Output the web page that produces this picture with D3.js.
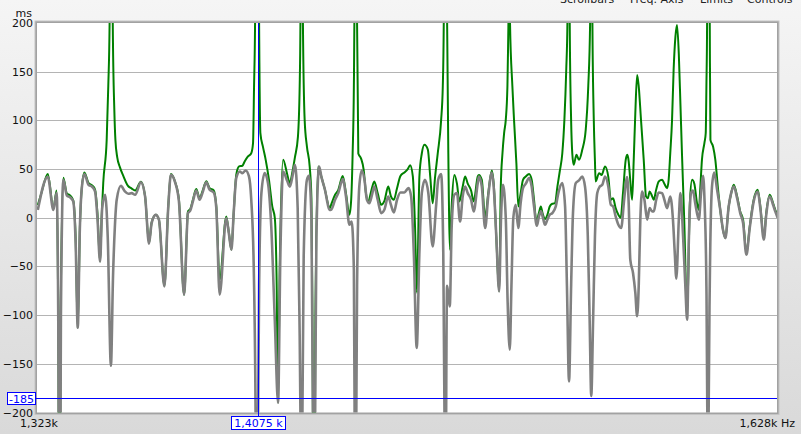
<!DOCTYPE html>
<html><head><meta charset="utf-8">
<script src="https://cdn.jsdelivr.net/npm/d3@7"></script>
<style>
html,body{margin:0;padding:0;overflow:hidden;background:#e6e6e6;}
text{font-family:"DejaVu Sans",sans-serif;}
</style>
</head><body>
<svg id="chart" width="801" height="434"></svg>
<script>
// ---- data ----
const freqDomain = [1323, 1628];       // Hz
const msDomain = [-200, 200];          // ms
const yTicks = [-200, -150, -100, -50, 0, 50, 100, 150, 200];
const yUnit = "ms";
const xEndLabels = ["1,323k", "1,628k Hz"];
const cursorFreq = 1407.5, cursorFreqLabel = "1,4075 k";
const cursorMs = -185, cursorMsLabel = "-185";
const menuItems = ["Scrollbars", "Freq. Axis", "Limits", "Controls"];

// green trace [Hz, ms]
const greenTrace = [
[1323.3,13],[1324.7,26],[1327.0,45],[1329.1,10],[1330.3,28],[1330.9,-100],[1331.4,-400],[1331.8,-100],[1332.8,41],[1334.1,25],[1335.3,23],[1336.5,18],[1337.4,-20],[1338.2,-113],[1339.0,-10],[1339.7,30],[1340.7,46.5],[1342.2,36],[1343.7,33],[1344.7,29],[1345.6,5],[1346.6,-45],[1347.2,1],[1347.8,36],[1349.1,80],[1349.7,135],[1350.2,200],[1350.8,700],[1351.4,200],[1352.0,110],[1352.4,80],[1353.1,62],[1354.1,52],[1355.4,43],[1357.1,33],[1358.6,30],[1359.9,28],[1362.1,37],[1363.7,22],[1365.2,-26],[1366.2,-5],[1367.8,3],[1369.0,-2],[1371.1,-70],[1372.6,12],[1373.6,45],[1375.2,37],[1376.7,18.5],[1378.7,-79],
[1380.2,6.5],[1381.1,9],[1382.1,18.5],[1383.4,29.4],[1384.7,20.2],[1385.8,27],[1387.3,37.6],[1388.6,30.4],[1390.2,28],[1391.2,11.6],[1392.5,-63.6],[1395.1,1.4],[1396.1,-15],[1397.1,-32.8],[1398.0,5],[1399.0,44],[1400.1,52.7],[1401.4,53.4],[1402.3,57.8],[1403.6,63],[1404.9,66.3],[1405.6,76.6],[1406.0,134.7],[1406.4,200],[1407.2,700],[1408.0,200],[1408.5,87],[1409.5,73],[1410.6,59.5],[1411.9,39],[1413.2,11.6],[1414.2,0],[1414.9,-60],[1415.5,-190],[1416.1,-60],[1417.5,59.5],[1419.1,45],[1420.1,35.6],[1421.4,50],[1422.2,62],[1423.4,83],[1424.1,135],[1424.4,200],[1424.8,700],[1425.4,200],[1426.1,100],[1427.0,73],[1428.1,52.7],[1428.8,20],[1429.2,-100],[1429.8,-400],[1430.4,-100],[1431.5,52.7],[1432.8,42],[1434.1,30],[1436.2,10],
[1436.7,13.3],[1438.3,23.6],[1439.6,28.7],[1441.4,43],[1442.7,25.3],[1444.1,3],[1444.8,18],[1445.4,66],[1445.9,135],[1446.1,200],[1446.5,700],[1447.2,200],[1447.7,66],[1448.8,61],[1449.9,49],[1450.8,25.3],[1451.8,16.8],[1452.9,27],[1454.2,37.3],[1455.6,25],[1457.0,13.3],[1458.3,17],[1459.9,32],[1461.0,22],[1462.2,18.5],[1463.5,30.4],[1464.9,43],[1466.5,46.5],[1467.9,50],[1468.9,54],[1470.0,42.4],[1470.9,-9],[1471.7,-77],[1472.7,42],[1473.7,66],[1474.8,75],[1476.2,70],[1477.2,42],[1478.2,15],[1479.2,42],[1480.3,66],[1481.7,100],[1482.4,135],[1482.8,200],[1483.3,700],[1484.2,200],[1484.7,66],[1485.4,-33],[1486.1,12],[1487.2,44],[1488.3,35],[1489.3,16.8],[1490.7,32],[1491.7,42.4],[1492.8,35],[1494.2,28],[1495.3,16.8],[1497.0,42.4],
[1497.5,44],[1498.7,39],[1500.1,0],[1501.4,25],[1502.9,48.6],[1503.8,32],[1504.8,-20],[1506.0,-75.6],[1506.7,32],[1507.4,66],[1508.1,87],[1508.8,100.5],[1509.5,135],[1509.9,195],[1510.3,260],[1510.6,200],[1511.6,135],[1512.3,100.5],[1513.3,56],[1514.1,11.6],[1515.1,25],[1516.1,39],[1517.3,42.4],[1518.7,45],[1519.8,39],[1520.8,18.5],[1521.8,-3.8],[1522.9,5],[1523.7,11.6],[1524.4,5],[1525.5,-1.4],[1526.5,3],[1527.5,11.6],[1528.6,14.4],[1529.8,15],[1530.8,32],[1531.8,47.5],[1532.9,66],[1533.8,100.5],[1534.6,152],[1535.1,200],[1535.5,700],[1536.1,200],[1536.7,100],[1537.2,66],[1537.8,54.4],[1539.0,64.6],[1540.1,59.5],[1541.5,69.8],[1543.0,90.3],[1544.1,135],[1544.9,200],[1545.4,700],[1545.9,200],[1546.5,100],[1547.0,58],[1547.3,37.3],[1548.8,45.8],[1549.9,44],[1551.4,52.7],[1552.8,42],[1553.9,18.5],[1554.9,20],[1556.0,9.9],[1557.2,3],[1558.2,0],[1559.2,25],[1560.4,59.5],[1561.1,64.6],
[1561.7,58],[1562.4,38],[1563.2,18.5],[1563.9,59],[1564.6,107],[1565.4,146.7],[1566.1,135],[1567.1,100.5],[1568.3,59.5],[1569.3,21.9],[1570.1,20],[1570.9,27],[1572.0,22],[1572.7,18.5],[1573.8,29],[1574.9,37.3],[1576.4,39],[1577.4,35],[1578.6,30.4],[1579.3,39],[1580.0,66],[1580.8,100.5],[1581.5,152],[1582.3,186],[1583.0,198],[1583.8,168],[1584.5,118],[1585.2,66],[1586.2,-2],[1587.5,-101],[1588.7,15],[1589.7,39],[1590.7,35],[1591.9,15],[1592.7,8.2],[1593.4,32],[1594.1,59.5],[1595.2,76.6],[1595.8,87],[1596.1,135],[1596.4,200],[1596.8,700],[1597.6,200],[1597.9,80],[1599.1,73],[1600.1,59.5],[1601.2,32],[1602.3,8],[1603.5,-12],[1604.6,-20.9],[1606.1,11.6],[1607.2,25],[1608.4,33.9],[1609.9,22],[1611.3,6.5],[1612.6,-2],[1614.1,-36.3],[1615.6,-9],[1617.4,18.5],[1619.2,28.7],[1620.4,12],[1622.0,-20.9],[1623.1,5],[1624.7,23.6],[1626.2,15],[1627.2,8],[1628.3,3]
];

// grey trace [Hz, ms]
const greyTrace = [
[1323.3,8],[1327.0,42],[1329.1,8],[1330.3,25.6],[1330.9,-100],[1331.4,-450],[1331.9,-100],[1332.8,39],[1334.1,23],[1335.3,21],[1336.5,17],[1337.4,-25],[1338.2,-113],[1339.0,-10],[1339.7,30],[1340.7,45],[1342.2,34],[1343.7,31.5],[1344.7,27],[1345.6,0],[1346.6,-45],[1347.4,10],[1348.5,23.6],[1349.5,-20],[1350.7,-152],[1351.5,-60],[1352.2,-9],[1352.9,18.5],[1354.5,32.8],[1356.0,27],[1357.3,24.6],[1358.6,25.3],[1359.9,23.6],[1362.1,36.3],[1363.7,22],[1365.2,-26.7],[1366.2,-5.5],[1367.8,3],[1369.0,-2],[1371.1,-70.5],[1372.6,11.6],[1373.6,44],[1375.2,36.6],[1376.7,16.8],[1378.7,-79],
[1380.2,4.8],[1381.1,7.5],[1382.1,16.8],[1383.4,28],[1384.7,18.5],[1385.8,25.3],[1387.3,36.3],[1388.6,28.7],[1390.2,26],[1391.2,10],[1392.5,-79],[1395.1,-0.3],[1396.1,-16],[1397.1,-32.8],[1398.0,5],[1399.0,40.7],[1400.4,47.5],[1401.4,45.8],[1402.7,48.6],[1404.0,42.4],[1404.9,18.5],[1405.9,-53],[1406.6,-200],[1407.1,-450],[1407.6,-200],[1408.0,-70],[1408.9,25.3],[1410.2,45.8],[1411.5,35.6],[1412.8,-9],[1414.2,-105],[1415.5,-190],[1416.4,-40],[1417.5,47.5],[1419.1,38],[1420.2,32],[1421.4,45],[1422.2,54.4],[1423.3,10],[1424.0,-100],[1424.4,-200],[1424.8,-450],[1425.2,-200],[1425.7,-40],[1427.0,39],[1427.8,43],[1428.8,0],[1429.4,-200],[1429.8,-450],[1430.3,-200],[1430.8,-20],[1431.9,52.7],[1432.8,42],[1434.1,30],[1436.2,8],
[1436.7,8.2],[1438.3,18.5],[1439.6,25.3],[1441.4,39.7],[1442.7,21.9],[1444.1,-7.2],[1445.0,-3.8],[1445.9,-53],[1446.2,-200],[1446.5,-450],[1446.9,-200],[1447.2,-70],[1448.1,32],[1449.1,48.6],[1450.2,39],[1451.2,18.5],[1452.2,15],[1453.2,23],[1454.2,32],[1455.6,18.5],[1457.0,4.8],[1458.3,8.2],[1459.9,21.9],[1461.0,13.3],[1462.2,5.5],[1463.5,18.5],[1464.9,26],[1466.5,26],[1468.2,30.4],[1469.3,21.9],[1470.4,-36],[1471.6,-133.7],[1472.7,-36],[1473.7,25.3],[1475.0,39],[1476.4,25.3],[1478.2,-29.4],[1479.6,11.6],[1480.5,39],[1481.7,45],[1482.6,-36],[1483.1,-200],[1483.5,-450],[1483.8,-200],[1484.2,-70],[1484.7,-80],[1485.3,-91],[1486.1,-8.9],[1487.2,23.6],[1488.3,25.3],[1489.6,-3.8],[1490.7,21.9],[1491.7,32],[1492.8,25.3],[1494.2,18.5],[1495.3,6.5],[1497.0,35.6],
[1497.5,42.4],[1498.7,32],[1500.1,-10.6],[1501.4,21.9],[1502.9,46.5],[1503.8,28.7],[1504.8,-19],[1506.0,-75.6],[1506.8,0],[1507.6,33.9],[1508.8,0],[1509.6,-87],[1510.5,-135.4],[1511.2,-70],[1512.0,0],[1513.0,13.3],[1514.1,-10.6],[1515.1,15],[1516.1,30.4],[1517.3,35],[1518.7,40.7],[1519.8,32],[1520.8,11.6],[1522.0,-8.2],[1522.9,1.4],[1523.8,6.5],[1524.6,0],[1525.5,-7.2],[1526.5,-2],[1527.5,3],[1528.6,4.8],[1530.1,11.6],[1531.2,25.3],[1532.9,35.6],[1534.1,11.6],[1534.9,-70],[1535.8,-168],[1536.7,-70],[1537.5,4.8],[1538.7,35.6],[1540.1,38.3],[1541.5,42.4],[1542.7,32],[1543.9,-19],[1544.7,-104.7],[1545.4,-183],[1546.2,-104.7],[1547.0,-19],[1548.0,25.3],[1549.1,32],[1550.2,33.9],[1551.4,42.4],[1552.8,32],[1553.9,13.3],[1554.9,11.6],[1556.0,1.4],[1557.2,-7.2],[1558.4,-10.6],[1559.7,18.5],[1560.7,39],
[1561.0,41.7],[1561.7,15],[1562.4,-43],[1563.6,-56.8],[1564.6,-77],[1565.4,-101],[1566.1,-70],[1566.8,-2],[1567.6,27],[1568.6,18.5],[1569.8,-2],[1570.9,9.9],[1572.0,6.5],[1572.7,6.5],[1573.8,18.5],[1574.9,26],[1576.4,25.3],[1577.4,18.5],[1578.6,9.9],[1580.0,21.9],[1581.2,-2],[1582.0,-36],[1582.7,-62.6],[1583.8,-2],[1584.5,25.3],[1585.7,-19],[1586.7,-70],[1587.5,-104.7],[1588.3,-19],[1589.2,25.3],[1590.1,28],[1591.1,15],[1592.7,-2],[1593.7,25.3],[1594.6,43],[1595.3,15],[1596.1,-70],[1596.5,-200],[1596.8,-450],[1597.1,-200],[1597.6,-70],[1598.6,32],[1599.6,46.5],[1600.9,28.7],[1602.3,8.2],[1603.5,-12],[1604.6,-20.9],[1606.1,11.6],[1607.2,25.3],[1608.4,32],[1609.9,20],[1611.3,4.8],[1612.6,-5.5],[1614.1,-38],[1615.6,-10.6],[1617.4,16.8],[1619.2,27],[1620.4,10],[1622.0,-22.6],[1623.1,3],[1624.7,21.9],[1626.2,13.3],[1627.2,6.5],[1628.3,0]
];

// ---- layout ----
const W = 801, H = 434;
const plot = {left: 37, right: 777, top: 23, bottom: 412.5};
const svg = d3.select("#chart");

const defs = svg.append("defs");
const bg = defs.append("linearGradient").attr("id","bg").attr("x1",0).attr("y1",0).attr("x2",0).attr("y2",1);
bg.append("stop").attr("offset","0%").attr("stop-color","#f5f5f5");
bg.append("stop").attr("offset","100%").attr("stop-color","#d9d9d9");
defs.append("clipPath").attr("id","clip").append("rect")
  .attr("x",plot.left).attr("y",plot.top)
  .attr("width",plot.right-plot.left).attr("height",plot.bottom-plot.top);

svg.append("rect").attr("width",W).attr("height",H).attr("fill","url(#bg)");

// menu (cut off at top, as in the reference)
const menuX = [560, 630, 700, 747];
svg.append("g").selectAll("text").data(menuItems).join("text")
  .attr("x",(d,i)=>menuX[i]).attr("y",2.5)
  .attr("font-size",11).attr("fill","#222").text(d=>d);

const x = d3.scaleLog().domain(freqDomain).range([plot.left, plot.right]);
const y = d3.scaleLinear().domain(msDomain).range([plot.bottom, plot.top]);

// frame with shadow
svg.append("rect").attr("x",plot.left-2.5).attr("y",plot.top-2.5)
  .attr("width",plot.right-plot.left+5).attr("height",plot.bottom-plot.top+5)
  .attr("fill","#c4c4c4");
svg.append("rect").attr("x",plot.left-1.5).attr("y",plot.top-1.5)
  .attr("width",plot.right-plot.left+3).attr("height",plot.bottom-plot.top+3)
  .attr("fill","#a2a2a2");
svg.append("rect").attr("x",plot.left).attr("y",plot.top)
  .attr("width",plot.right-plot.left).attr("height",plot.bottom-plot.top)
  .attr("fill","#ffffff");

// gridlines
svg.append("g").selectAll("line").data(yTicks.filter(t=>t>msDomain[0] && t<msDomain[1])).join("line")
  .attr("x1",plot.left).attr("x2",plot.right)
  .attr("y1",d=>Math.round(y(d))+0.5).attr("y2",d=>Math.round(y(d))+0.5)
  .attr("stroke","#b4b4b4").attr("stroke-width",1);

// y axis labels
const yAxis = d3.axisLeft(y).tickValues(yTicks).tickSize(0).tickPadding(4).tickFormat(d3.format("d"));
const ya = svg.append("g").attr("transform",`translate(${plot.left},0)`).call(yAxis);
ya.select(".domain").remove();
ya.selectAll("text").attr("font-size",11).attr("fill","#111").attr("font-family","DejaVu Sans, sans-serif");
svg.append("text").attr("x",32).attr("y",16.5).attr("text-anchor","end")
  .attr("font-size",11).attr("fill","#111").text(yUnit);

// x end labels
svg.append("text").attr("x",x(freqDomain[0])-17).attr("y",427).attr("text-anchor","start")
  .attr("font-size",11).attr("fill","#111").text(xEndLabels[0]);
svg.append("text").attr("x",x(freqDomain[1])+18).attr("y",427).attr("text-anchor","end")
  .attr("font-size",11).attr("fill","#111").text(xEndLabels[1]);

// traces
const line = d3.line().x(d=>x(d[0])).y(d=>y(d[1])).curve(d3.curveMonotoneX);
const g = svg.append("g").attr("clip-path","url(#clip)");
g.append("path").datum(greenTrace).attr("d",line)
  .attr("fill","none").attr("stroke","#008000").attr("stroke-width",2).attr("stroke-linejoin","round");
g.append("path").datum(greyTrace).attr("d",line)
  .attr("fill","none").attr("stroke","#808080").attr("stroke-width",2.6).attr("stroke-linejoin","round");

// cursors
const cx = Math.round(x(cursorFreq))+0.5, cy = Math.round(y(cursorMs))+0.5;
svg.append("line").attr("x1",cx).attr("x2",cx).attr("y1",plot.top).attr("y2",417)
  .attr("stroke","#0000ff").attr("stroke-width",1);
svg.append("line").attr("x1",36).attr("x2",plot.right).attr("y1",cy).attr("y2",cy)
  .attr("stroke","#0000ff").attr("stroke-width",1);

// cursor labels
const xl = svg.append("g");
const xt = xl.append("text").attr("x",cx).attr("y",427).attr("text-anchor","middle")
  .attr("font-size",11).attr("fill","#0000ff").text(cursorFreqLabel);
const xb = xt.node().getBBox();
xl.insert("rect","text").attr("x",Math.round(xb.x)-2.5).attr("y",416.5)
  .attr("width",Math.round(xb.width)+5).attr("height",13)
  .attr("fill","#ffffff").attr("stroke","#0000ff").attr("stroke-width",1);

const yl = svg.append("g");
yl.append("text").attr("x",21.5).attr("y",cy+4).attr("text-anchor","middle")
  .attr("font-size",11).attr("fill","#0000ff").text(cursorMsLabel);
yl.insert("rect","text").attr("x",7.5).attr("y",cy-6)
  .attr("width",28).attr("height",12)
  .attr("fill","#ffffff").attr("stroke","#0000ff").attr("stroke-width",1);
</script>
</body></html>
